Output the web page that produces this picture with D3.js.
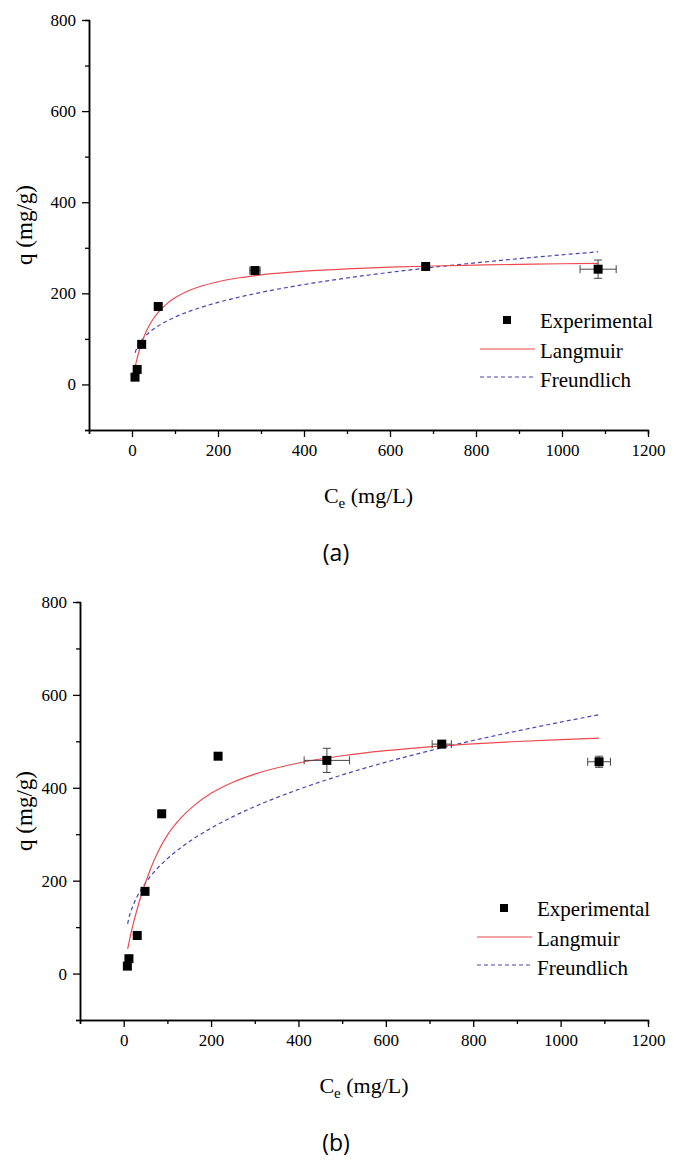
<!DOCTYPE html>
<html lang="en">
<head>
<meta charset="UTF-8">
<title>Adsorption isotherms</title>
<script src="https://d3js.org/d3.v7.min.js"></script>
<style>
  body { margin: 0; background: #fff; }
  svg text { font-family: "Liberation Serif", "Times New Roman", serif; }
  .axis path, .axis line { stroke: #000; }
  .axis path { stroke-width: 1.5; }
  .axis line { stroke-width: 1.3; }
</style>
</head>
<body>
<svg id="chart" width="676" height="1170"></svg>
<script>
// ticks
const xTicks = [0, 200, 400, 600, 800, 1000, 1200];
const xMinor = [-100, 100, 300, 500, 700, 900, 1100];
const yTicks = [0, 200, 400, 600, 800];
const yMinor = [-100, 100, 300, 500, 700];
const seriesNames = ["Experimental", "Langmuir", "Freundlich"];

// panel (a) experimental points
const aCe   = [7, 12, 22.5, 61, 286, 683, 1084];
const aQ    = [16, 33, 88, 171, 250, 259, 253];
const aXerr = [0, 0, 0, 0, 12, 6, 42];
const aYerr = [0, 0, 0, 0, 5, 4, 20];
// panel (a) fitted curves
const aFitCe = [7, 10, 15, 20, 30, 40, 50, 60, 80, 100, 130, 160, 200, 250, 300, 400, 500, 600, 700, 800, 900, 1000, 1084];
const aLang  = [36.8, 49.7, 68.5, 84.3, 109.8, 129.3, 144.7, 157.2, 176.3, 190.1, 205, 215.5, 225.5, 234.2, 240.4, 248.6, 253.8, 257.4, 260, 262, 263.6, 264.9, 265.8];
const aFreu  = [69.5, 76.9, 86.3, 93.7, 105.1, 114, 121.5, 128, 138.8, 147.9, 159.4, 169, 180.1, 191.9, 202.1, 219.3, 233.7, 246.1, 257.1, 267, 276.1, 284.5, 291.1];

// panel (b) experimental points
const bCe   = [8.4, 12, 31, 48.8, 87, 216, 465, 728, 1088];
const bQ    = [16, 32, 82, 177, 344, 468, 459, 494, 456];
const bXerr = [0, 0, 0, 0, 0, 8, 52, 22, 26];
const bYerr = [0, 0, 0, 0, 0, 0, 26, 4, 12];
// panel (b) fitted curves
const bFitCe = [9, 12, 15, 20, 30, 40, 50, 60, 80, 100, 130, 160, 200, 250, 300, 400, 500, 600, 700, 800, 900, 1000, 1088];
const bLang  = [53, 66, 80, 100, 136, 168, 196, 222, 265, 298, 334, 361, 388, 412, 429.5, 453.3, 469, 480, 488.2, 494.5, 499.6, 503.7, 507];
const bFreu  = [107, 120.5, 129.8, 143.2, 164.3, 181.2, 195.5, 208, 229.4, 247.5, 270.5, 290.4, 313.2, 337.9, 359.5, 396.4, 427.7, 455.1, 479.6, 501.8, 522.2, 541.3, 557.3];

const svg = d3.select("#chart");
const serif = "'Liberation Serif', 'Times New Roman', serif";
const red = "#ec4a4f";
const blue = "#4646b4";

function styleTicks(sel) {
  sel.attr("font-family", null).attr("font-size", null);
  sel.selectAll("text")
    .style("font-family", serif)
    .style("font-size", "17px")
    .attr("fill", "#000");
}

function drawPanel(p) {
  const x = d3.scaleLinear().domain([-100, 1200]).range([p.left, p.right]);
  const y = d3.scaleLinear().domain([-100, 800]).range([p.bottom, p.top]);
  const g = svg.append("g");

  // minor ticks first, then major axis on top
  g.append("g").attr("class", "axis").attr("transform", `translate(0,${p.bottom})`)
    .call(d3.axisBottom(x).tickValues(xMinor).tickSize(4).tickFormat(""));
  g.append("g").attr("class", "axis").attr("transform", `translate(${p.left},0)`)
    .call(d3.axisLeft(y).tickValues(yMinor).tickSize(4).tickFormat(""));
  g.append("g").attr("class", "axis").attr("transform", `translate(0,${p.bottom})`)
    .call(d3.axisBottom(x).tickValues(xTicks).tickSize(7).tickSizeOuter(0).tickPadding(7).tickFormat(d3.format("d")))
    .call(styleTicks);
  g.append("g").attr("class", "axis").attr("transform", `translate(${p.left},0)`)
    .call(d3.axisLeft(y).tickValues(yTicks).tickSize(7).tickSizeOuter(0).tickPadding(6).tickFormat(d3.format("d")))
    .call(styleTicks);

  // axis titles
  const xt = g.append("text")
    .attr("x", (p.left + p.right) / 2).attr("y", p.bottom + 73)
    .attr("text-anchor", "middle").style("font-family", serif).style("font-size", "22px");
  xt.append("tspan").text("C");
  xt.append("tspan").style("font-size", "15px").attr("dy", 5).text("e");
  xt.append("tspan").attr("dy", -5).text(" (mg/L)");

  g.append("text")
    .attr("transform", `translate(32,${(p.top + p.bottom) / 2}) rotate(-90)`)
    .attr("text-anchor", "middle").style("font-family", serif).style("font-size", "23px")
    .text("q (mg/g)");

  g.append("text")
    .attr("x", 336).attr("y", p.bottom + 131)
    .attr("text-anchor", "middle").style("font-family", "'Open Sans', sans-serif").style("font-size", "23px")
    .text(p.tag);

  // fitted curves
  const line = d3.line().curve(d3.curveMonotoneX).x(d => x(d[0])).y(d => y(d[1]));
  g.append("path").datum(d3.zip(p.fitCe, p.freu))
    .attr("d", line).attr("fill", "none").attr("stroke", blue)
    .attr("stroke-width", 1.2).attr("stroke-dasharray", "4,3");
  g.append("path").datum(d3.zip(p.fitCe, p.lang))
    .attr("d", line).attr("fill", "none").attr("stroke", red).attr("stroke-width", 1.2);

  // error bars
  const pts = p.ce.map((c, i) => ({ c, q: p.q[i], ex: p.xerr[i], ey: p.yerr[i] }));
  const eb = g.append("g").attr("stroke", "#444").attr("stroke-width", 1).attr("fill", "none");
  pts.filter(d => d.ex > 0).forEach(d => {
    const x0 = x(d.c - d.ex), x1 = x(d.c + d.ex), yy = y(d.q);
    eb.append("path").attr("d", `M${x0},${yy}H${x1}M${x0},${yy - 4}V${yy + 4}M${x1},${yy - 4}V${yy + 4}`);
  });
  pts.filter(d => d.ey > 0).forEach(d => {
    const y0 = y(d.q - d.ey), y1 = y(d.q + d.ey), xx = x(d.c);
    eb.append("path").attr("d", `M${xx},${y0}V${y1}M${xx - 4},${y0}H${xx + 4}M${xx - 4},${y1}H${xx + 4}`);
  });

  // squares
  g.selectAll(".pt").data(pts).join("rect")
    .attr("x", d => x(d.c) - 4.5).attr("y", d => y(d.q) - 4.5)
    .attr("width", 9).attr("height", 9).attr("fill", "#000");

  // legend
  const L = p.legend;
  const lg = g.append("g").style("font-family", serif).style("font-size", "21px");
  lg.append("rect").attr("x", L.x - 4).attr("y", L.y - 4).attr("width", 8).attr("height", 8).attr("fill", "#000");
  lg.append("line").attr("x1", L.x - 27).attr("x2", L.x + 28).attr("y1", L.y + 29).attr("y2", L.y + 29)
    .attr("stroke", red).attr("stroke-width", 1.2);
  lg.append("line").attr("x1", L.x - 27).attr("x2", L.x + 28).attr("y1", L.y + 57).attr("y2", L.y + 57)
    .attr("stroke", blue).attr("stroke-width", 1.2).attr("stroke-dasharray", "4,3");
  seriesNames.forEach((s, i) => {
    lg.append("text").attr("x", L.x + 33).attr("y", L.y + 8 + i * 29.5).text(s);
  });
}

drawPanel({
  left: 89, right: 648, top: 20, bottom: 430, tag: "(a)",
  ce: aCe, q: aQ, xerr: aXerr, yerr: aYerr,
  fitCe: aFitCe, lang: aLang, freu: aFreu,
  legend: { x: 507, y: 320 }
});
drawPanel({
  left: 80, right: 648, top: 602, bottom: 1020, tag: "(b)",
  ce: bCe, q: bQ, xerr: bXerr, yerr: bYerr,
  fitCe: bFitCe, lang: bLang, freu: bFreu,
  legend: { x: 504, y: 908 }
});
</script>
</body>
</html>
